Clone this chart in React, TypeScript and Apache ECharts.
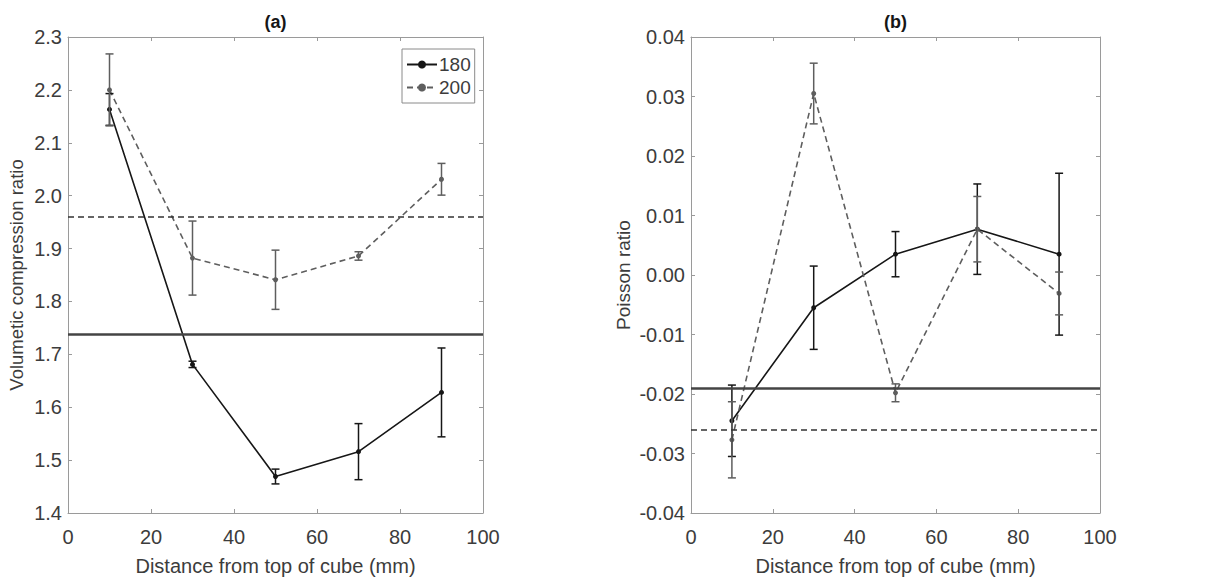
import React, { useEffect, useRef } from "react";
import * as echarts from "echarts";

const distances = [10, 30, 50, 70, 90];

const volRatio180 = [2.163, 1.681, 1.469, 1.516, 1.628];
const volErr180 = [0.03, 0.006, 0.014, 0.053, 0.084];
const volRatio200 = [2.2, 1.882, 1.841, 1.886, 2.031];
const volErr200 = [0.068, 0.07, 0.056, 0.008, 0.03];
const volMean180 = 1.738;
const volMean200 = 1.96;

const poisson180 = [-0.0245, -0.0055, 0.0035, 0.0077, 0.0035];
const poissonErr180 = [0.006, 0.007, 0.0038, 0.0076, 0.0136];
const poisson200 = [-0.0277, 0.0305, -0.0198, 0.0077, -0.0031];
const poissonErr200 = [0.0064, 0.0051, 0.0015, 0.0055, 0.0036];
const poissonMean180 = -0.019;
const poissonMean200 = -0.026;

const seriesNames = ["180", "200"];
const panelTitles = ["(a)", "(b)"];
const xAxisTitle = "Distance from top of cube (mm)";
const yAxisTitles = ["Volumetic compression ratio", "Poisson ratio"];

const FONT = "Arial, 'Liberation Sans', Helvetica, sans-serif";
const TEXT = "#3c3c3c";
const AXIS = "#9a9a9a";
const DARK = "#161616";
const GREY = "#5e5e5e";

const pairs = (xs: number[], ys: number[]) => xs.map((x, i) => [x, ys[i]]);
const errs = (xs: number[], ys: number[], es: number[]) =>
  xs.map((x, i) => [x, ys[i] - es[i], ys[i] + es[i]]);

const errorRender = (color: string) => (params: any, api: any) => {
  const x = api.value(0);
  const lo = api.coord([x, api.value(1)]);
  const hi = api.coord([x, api.value(2)]);
  const cap = 4;
  const style = { stroke: color, lineWidth: 1.5 };
  return {
    type: "group",
    children: [
      { type: "line", shape: { x1: lo[0], y1: lo[1], x2: hi[0], y2: hi[1] }, style },
      { type: "line", shape: { x1: lo[0] - cap, y1: lo[1], x2: lo[0] + cap, y2: lo[1] }, style },
      { type: "line", shape: { x1: hi[0] - cap, y1: hi[1], x2: hi[0] + cap, y2: hi[1] }, style },
    ],
  };
};

const baseAxis = {
  axisLine: { show: true, onZero: false, lineStyle: { color: AXIS, width: 1 } },
  axisTick: { show: true, inside: true, length: 4, lineStyle: { color: AXIS } },
  splitLine: { show: false },
};

export default function App() {
  const ref = useRef<HTMLDivElement>(null);

  useEffect(() => {
    if (!ref.current) return;
    const chart = echarts.init(ref.current, undefined, { renderer: "svg" });

    const grids = [
      { left: 68, top: 37, width: 415, height: 476 },
      { left: 691, top: 37, width: 409, height: 476 },
    ];

    const xAxes: any[] = [];
    const yAxes: any[] = [];
    const yRanges = [
      { min: 1.4, max: 2.3, interval: 0.1, fmt: (v: number) => v.toFixed(1), gap: 42, nameSize: 18.5 },
      { min: -0.04, max: 0.04, interval: 0.01, fmt: (v: number) => v.toFixed(2), gap: 58, nameSize: 19 },
    ];
    [0, 1].forEach((g) => {
      xAxes.push({
        ...baseAxis,
        type: "value",
        gridIndex: g,
        position: "bottom",
        min: 0,
        max: 100,
        interval: 20,
        axisLabel: { color: TEXT, fontSize: 20, fontFamily: FONT, margin: 14 },
        name: xAxisTitle,
        nameLocation: "middle",
        nameGap: 43,
        nameTextStyle: { color: TEXT, fontSize: 20, fontFamily: FONT },
      });
      xAxes.push({
        ...baseAxis,
        type: "value",
        gridIndex: g,
        position: "top",
        min: 0,
        max: 100,
        interval: 20,
        axisLabel: { show: false },
      });
      const r = yRanges[g];
      yAxes.push({
        ...baseAxis,
        type: "value",
        gridIndex: g,
        position: "left",
        min: r.min,
        max: r.max,
        interval: r.interval,
        axisLabel: { color: TEXT, fontSize: 20, fontFamily: FONT, margin: 6, formatter: r.fmt },
        name: yAxisTitles[g],
        nameLocation: "middle",
        nameGap: r.gap,
        nameTextStyle: { color: TEXT, fontSize: r.nameSize, fontFamily: FONT },
      });
      yAxes.push({
        ...baseAxis,
        type: "value",
        gridIndex: g,
        position: "right",
        min: r.min,
        max: r.max,
        interval: r.interval,
        axisLabel: { show: false },
      });
    });

    const lineSeries = (
      name: string,
      xi: number,
      yi: number,
      data: number[][],
      color: string,
      dashed: boolean,
      mean: number,
      meanColor: string,
      meanWidth: number
    ) => ({
      name,
      type: "line",
      xAxisIndex: xi,
      yAxisIndex: yi,
      data,
      symbol: "circle",
      symbolSize: 5,
      itemStyle: { color },
      lineStyle: { color, width: 1.6, type: dashed ? [6, 4] : "solid" },
      markLine: {
        silent: true,
        symbol: "none",
        precision: 5,
        label: { show: false },
        lineStyle: { color: meanColor, width: meanWidth, type: dashed ? [6, 4] : "solid" },
        data: [{ yAxis: mean }],
      },
      z: 3,
    });

    const errSeries = (name: string, xi: number, yi: number, data: number[][], color: string) => ({
      name,
      type: "custom",
      xAxisIndex: xi,
      yAxisIndex: yi,
      data,
      encode: { x: 0, y: [1, 2] },
      renderItem: errorRender(color),
      z: 4,
    });

    const option: any = {
      animation: false,
      backgroundColor: "#ffffff",
      textStyle: { fontFamily: FONT },
      grid: grids,
      xAxis: xAxes,
      yAxis: yAxes,
      legend: {
        show: true,
        data: seriesNames,
        orient: "vertical",
        left: 402,
        top: 49,
        padding: [6, 4, 6, 4],
        itemGap: 4,
        itemWidth: 30,
        itemHeight: 10,
        borderColor: "#8a8a8a",
        borderWidth: 1,
        backgroundColor: "#fff",
        textStyle: { color: TEXT, fontSize: 19, fontFamily: FONT, padding: [0, 0, 0, -3] },
      },
      graphic: [
        {
          type: "text",
          x: 275.5,
          y: 22,
          style: { text: panelTitles[0], fontSize: 18, fontWeight: "bold", fontFamily: FONT, fill: DARK, align: "center", verticalAlign: "middle" },
        },
        {
          type: "text",
          x: 895.5,
          y: 22,
          style: { text: panelTitles[1], fontSize: 18, fontWeight: "bold", fontFamily: FONT, fill: DARK, align: "center", verticalAlign: "middle" },
        },
      ],
      series: [
        lineSeries(seriesNames[0], 0, 0, pairs(distances, volRatio180), DARK, false, volMean180, "#444", 2.5),
        lineSeries(seriesNames[1], 0, 0, pairs(distances, volRatio200), GREY, true, volMean200, "#333", 1.6),
        errSeries("e180a", 0, 0, errs(distances, volRatio180, volErr180), DARK),
        errSeries("e200a", 0, 0, errs(distances, volRatio200, volErr200), GREY),
        lineSeries(seriesNames[0], 2, 2, pairs(distances, poisson180), DARK, false, poissonMean180, "#444", 2.5),
        lineSeries(seriesNames[1], 2, 2, pairs(distances, poisson200), GREY, true, poissonMean200, "#333", 1.6),
        errSeries("e180b", 2, 2, errs(distances, poisson180, poissonErr180), DARK),
        errSeries("e200b", 2, 2, errs(distances, poisson200, poissonErr200), GREY),
      ],
    };

    chart.setOption(option);
    return () => chart.dispose();
  }, []);

  return (
    <div
      ref={ref}
      style={{ position: "absolute", left: 0, top: 0, width: 1205, height: 583, background: "#fff" }}
    />
  );
}
